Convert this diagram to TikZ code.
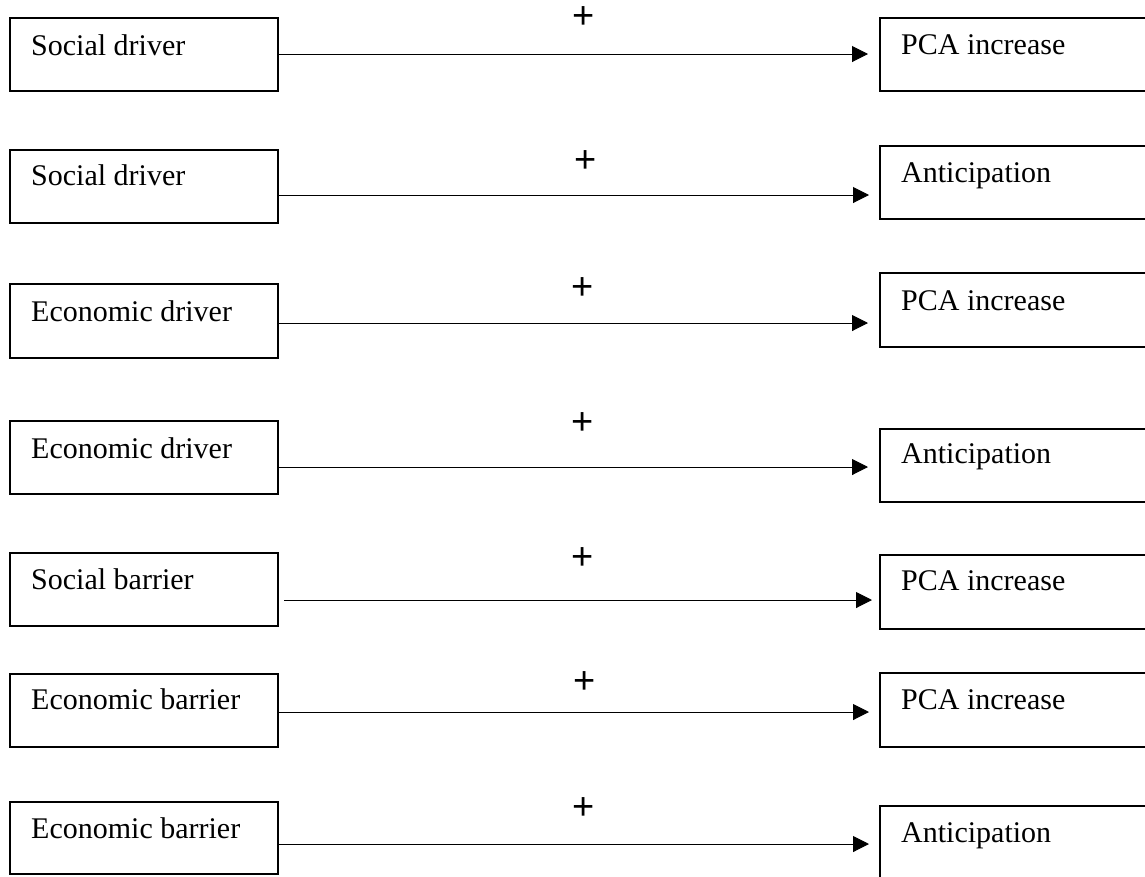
\documentclass[tikz,border=0pt]{standalone}
\usepackage{fontspec}
\setmainfont{Liberation Serif}
\newfontfamily\plusfont{Liberation Sans}
\usetikzlibrary{arrows.meta}
\begin{document}
\begin{tikzpicture}[x=1pt,y=-1pt,
  boxL/.style={draw, line width=2pt, minimum width=268pt, anchor=north west, inner sep=0pt},
  boxR/.style={draw, line width=2pt, minimum width=290pt, anchor=north west, inner sep=0pt},
  lbl/.style={anchor=base west, inner sep=0pt, font=\fontsize{30}{36}\selectfont},
  plus/.style={inner sep=0pt, font=\plusfont\fontsize{38}{40}\selectfont},
  arr/.style={line width=1pt, -{Triangle[length=16pt,width=16pt]}}
]
\clip (0,0) rectangle (1145,876);
\useasboundingbox (0,0) rectangle (1145,876);
\fill[white] (0,0) rectangle (1145,876);

% left boxes
\node[boxL, minimum height=73pt] (L1) at (9,17) {};
\node[boxL, minimum height=73pt] (L2) at (9,149) {};
\node[boxL, minimum height=74pt] (L3) at (9,283) {};
\node[boxL, minimum height=73pt] (L4) at (9,420) {};
\node[boxL, minimum height=73pt] (L5) at (9,552) {};
\node[boxL, minimum height=73pt] (L6) at (9,673) {};
\node[boxL, minimum height=72pt] (L7) at (9,801) {};

% right boxes
\node[boxR, minimum height=73pt] (R1) at (879,17) {};
\node[boxR, minimum height=73pt] (R2) at (879,145) {};
\node[boxR, minimum height=74pt] (R3) at (879,272) {};
\node[boxR, minimum height=73pt] (R4) at (879,428) {};
\node[boxR, minimum height=74pt] (R5) at (879,554) {};
\node[boxR, minimum height=74pt] (R6) at (879,672) {};
\node[boxR, minimum height=76pt] (R7) at (879,805) {};

% texts
\node[lbl] (L1t) at (31,55) {Social driver};
\node[lbl] (L2t) at (31,185) {Social driver};
\node[lbl] (L3t) at (31,321) {Economic driver};
\node[lbl] (L4t) at (31,458) {Economic driver};
\node[lbl] (L5t) at (31,589) {Social barrier};
\node[lbl] (L6t) at (31,709) {Economic barrier};
\node[lbl] (L7t) at (31,838) {Economic barrier};

\node[lbl] (R1t) at (901,54) {PCA increase};
\node[lbl] (R2t) at (901,182) {Anticipation};
\node[lbl] (R3t) at (901,310) {PCA increase};
\node[lbl] (R4t) at (901,463) {Anticipation};
\node[lbl] (R5t) at (901,590) {PCA increase};
\node[lbl] (R6t) at (901,709) {PCA increase};
\node[lbl] (R7t) at (901,842) {Anticipation};

% plus signs
\node[plus] (P1) at (584,18) {+};
\node[plus] (P2) at (586,162) {+};
\node[plus] (P3) at (583,289) {+};
\node[plus] (P4) at (583,424) {+};
\node[plus] (P5) at (583,559) {+};
\node[plus] (P6) at (585,683) {+};
\node[plus] (P7) at (584,809) {+};

% arrows
\draw[arr, shorten >=11pt] (L1.east |- 0,54) -- (R1.west |- 0,54);
\draw[arr, shorten >=10pt] (L2.east |- 0,195) -- (R2.west |- 0,195);
\draw[arr, shorten >=11pt] (L3.east |- 0,323) -- (R3.west |- 0,323);
\draw[arr, shorten >=11pt] (L4.east |- 0,467) -- (R4.west |- 0,467);
\draw[arr, shorten <=5pt, shorten >=7pt] (L5.east |- 0,600) -- (R5.west |- 0,600);
\draw[arr, shorten >=10pt] (L6.east |- 0,712) -- (R6.west |- 0,712);
\draw[arr, shorten >=10pt] (L7.east |- 0,844) -- (R7.west |- 0,844);
\end{tikzpicture}
\end{document}
